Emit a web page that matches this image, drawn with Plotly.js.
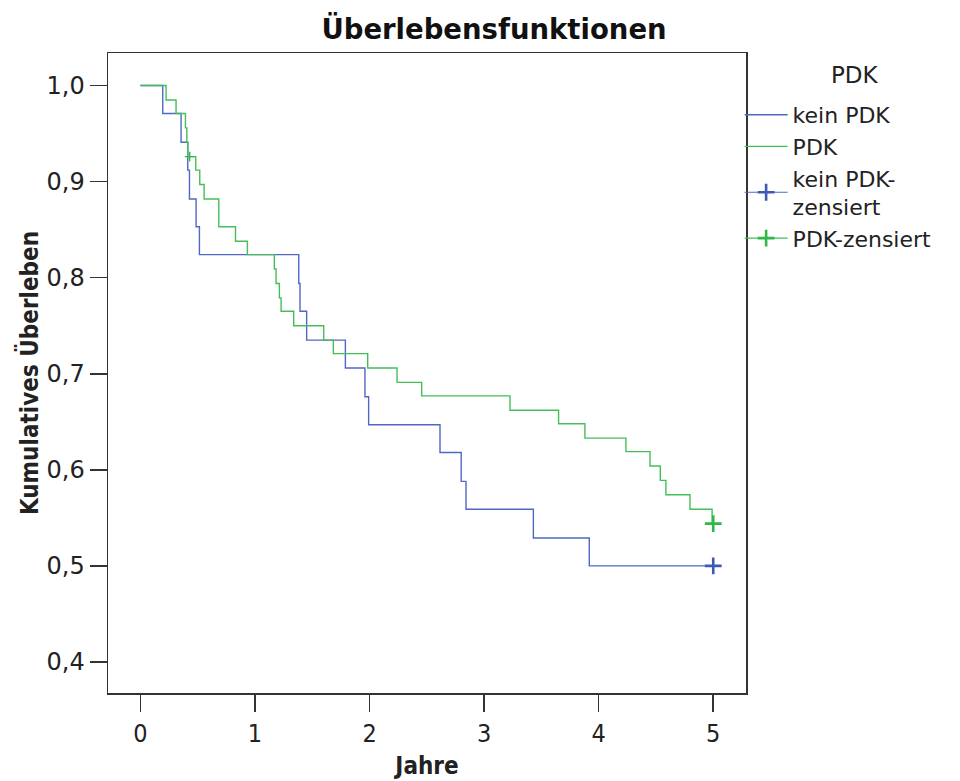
<!DOCTYPE html>
<html>
<head>
<meta charset="utf-8">
<script src="https://cdn.plot.ly/plotly-3.0.1.min.js"></script>
<style>html,body{margin:0;padding:0;background:#fff;}#chart{width:960px;height:781px;}</style>
</head>
<body>
<div id="chart"></div>
<script>
// Kaplan-Meier step data
var keinTime = [0, 0.195, 0.355, 0.413, 0.428, 0.486, 0.515, 1.382, 1.393, 1.451, 1.789, 1.960, 1.992, 2.615, 2.800, 2.842, 3.430, 3.918, 5.0];
var keinSurv = [1.0, 0.971, 0.941, 0.912, 0.882, 0.853, 0.824, 0.794, 0.765, 0.735, 0.706, 0.676, 0.647, 0.618, 0.588, 0.559, 0.529, 0.500, 0.500];

var pdkTime = [0, 0.224, 0.311, 0.393, 0.405, 0.413, 0.483, 0.518, 0.556, 0.684, 0.830, 0.934, 1.169, 1.184, 1.213, 1.228, 1.338, 1.600, 1.684, 1.984, 2.240, 2.455, 3.226, 3.650, 3.880, 4.238, 4.448, 4.538, 4.587, 4.797, 4.990, 5.0];
var pdkSurv = [1.0, 0.985, 0.971, 0.956, 0.941, 0.926, 0.912, 0.897, 0.882, 0.853, 0.838, 0.824, 0.809, 0.794, 0.779, 0.765, 0.750, 0.735, 0.721, 0.706, 0.691, 0.677, 0.662, 0.648, 0.633, 0.619, 0.604, 0.589, 0.574, 0.559, 0.544, 0.544];

// censored observations
var keinCensTime = [5.0];
var keinCensSurv = [0.500];
var pdkCensTime = [5.0];
var pdkCensSurv = [0.544];
var pdkEarlyCensTime = [0.43];
var pdkEarlyCensSurv = [0.926];

var legendTitle = 'PDK';
var seriesNames = ['kein PDK', 'PDK', 'kein PDK-<br>zensiert', 'PDK-zensiert'];
var xTicks = [0, 1, 2, 3, 4, 5];
var yTicks = [0.4, 0.5, 0.6, 0.7, 0.8, 0.9, 1.0];

var blue = '#5068c4';
var green = '#45be5a';

var traces = [
  {x: keinTime, y: keinSurv, name: seriesNames[0], type: 'scatter', mode: 'lines',
   line: {shape: 'hv', color: blue, width: 1.4}},
  {x: pdkTime, y: pdkSurv, name: seriesNames[1], type: 'scatter', mode: 'lines',
   line: {shape: 'hv', color: green, width: 1.4}},
  {x: keinCensTime, y: keinCensSurv, name: seriesNames[2], type: 'scatter', mode: 'lines+markers',
   line: {color: blue, width: 1.2},
   marker: {symbol: 'cross-thin-open', size: 12, color: '#3e58b8', line: {width: 2.6, color: '#3e58b8'}}},
  {x: pdkCensTime, y: pdkCensSurv, name: seriesNames[3], type: 'scatter', mode: 'lines+markers',
   legendgroup: 'pdkc',
   line: {color: green, width: 1.2},
   marker: {symbol: 'cross-thin-open', size: 12, color: '#2eb848', line: {width: 2.6, color: '#2eb848'}}},
  {x: pdkEarlyCensTime, y: pdkEarlyCensSurv, name: seriesNames[3], type: 'scatter', mode: 'markers',
   legendgroup: 'pdkc', showlegend: false,
   marker: {symbol: 'cross-thin-open', size: 7, color: '#2eb848', line: {width: 1.4, color: '#2eb848'}}}
];

var condensedBold = {family: 'DejaVu Sans Condensed, DejaVu Sans', size: 24, weight: 'bold', color: '#222'};
var layout = {
  width: 960, height: 781,
  paper_bgcolor: '#fff', plot_bgcolor: '#fff',
  separators: ',.',
  font: {family: 'DejaVu Sans', size: 22, color: '#222'},
  margin: {l: 108, r: 214, t: 53, b: 88, autoexpand: false},
  title: {text: 'Überlebensfunktionen', x: 0.5146, xanchor: 'center', y: 0.962, yanchor: 'middle',
          font: {family: 'DejaVu Sans', size: 27.5, weight: 'bold', color: '#111'}},
  xaxis: {range: [-0.283, 5.286], tickvals: xTicks, ticktext: xTicks.map(String),
          showgrid: false, zeroline: false, showline: true, mirror: true, linecolor: '#333', linewidth: 1.5,
          ticks: 'outside', ticklen: 17, tickwidth: 1.5, tickcolor: '#333',
          tickfont: {family: 'DejaVu Sans Condensed, DejaVu Sans', size: 25, color: '#222'},
          title: {text: 'Jahre', standoff: 10, font: condensedBold}},
  yaxis: {range: [0.3677, 1.0339], tickvals: yTicks, tickformat: '.1f',
          showgrid: false, zeroline: false, showline: true, mirror: true, linecolor: '#333', linewidth: 1.5,
          ticks: 'outside', ticklen: 17, tickwidth: 1.5, tickcolor: '#333',
          tickfont: {family: 'DejaVu Sans', size: 24, color: '#222'},
          title: {text: 'Kumulatives Überleben', standoff: 1, font: condensedBold}},
  legend: {x: 0.990, xanchor: 'left', y: 0.936, yanchor: 'top', bgcolor: 'rgba(0,0,0,0)',
           font: {family: 'DejaVu Sans', size: 22, color: '#222'},
           itemwidth: 43, tracegroupgap: 0},
  annotations: [{text: legendTitle, xref: 'paper', yref: 'paper', x: 1.171, y: 0.965,
                 xanchor: 'center', yanchor: 'middle', showarrow: false,
                 font: {family: 'DejaVu Sans', size: 23, color: '#222'}}],
  showlegend: true
};

Plotly.newPlot('chart', traces, layout, {staticPlot: true, displayModeBar: false});
</script>
</body>
</html>
